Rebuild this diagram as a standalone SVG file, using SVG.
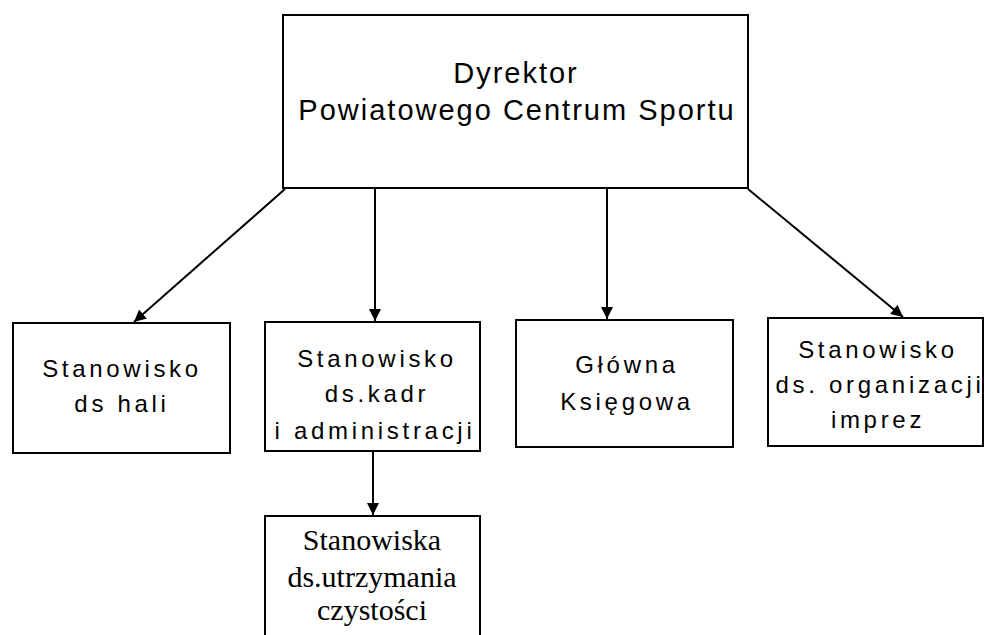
<svg xmlns="http://www.w3.org/2000/svg" width="985" height="635" viewBox="0 0 985 635">
<style>
.box{fill:#fff;stroke:#000;stroke-width:2}
.t{font-family:"Liberation Sans",Arial,sans-serif;font-size:24px;letter-spacing:3.7px;text-anchor:middle;fill:#000}
.top{font-size:29px;letter-spacing:2px}
.serif{font-family:"Liberation Serif","Times New Roman",serif;font-size:30px;letter-spacing:0;text-anchor:middle;fill:#000}
.c{stroke:#000;stroke-width:2;fill:none;marker-end:url(#ah)}
</style>
<defs>
<marker id="ah" viewBox="0 0 10 10" refX="10" refY="5" markerWidth="6" markerHeight="6" orient="auto" markerUnits="strokeWidth">
<path d="M0,0 L10,5 L0,10 z" fill="#000"/>
</marker>
</defs>
<rect width="985" height="635" fill="#fff"/>
<g id="connectors">
<line class="c" x1="285" y1="189" x2="134" y2="322"/>
<line class="c" x1="375" y1="189" x2="375" y2="321"/>
<line class="c" x1="607" y1="189" x2="607" y2="319"/>
<line class="c" x1="748" y1="189" x2="903" y2="317"/>
<line class="c" x1="373" y1="452" x2="373" y2="515"/>
</g>
<g id="director">
<rect class="box" x="283" y="15" width="465" height="173"/>
<text class="t top" x="516" y="83">Dyrektor</text>
<text class="t top" x="517" y="120">Powiatowego Centrum Sportu</text>
</g>
<g id="hala">
<rect class="box" x="13" y="323" width="217" height="130"/>
<text class="t" x="122" y="377">Stanowisko</text>
<text class="t" x="122" y="412">ds hali</text>
</g>
<g id="kadry">
<rect class="box" x="265" y="322" width="215" height="129"/>
<text class="t" x="377" y="367">Stanowisko</text>
<text class="t" x="377" y="402">ds.kadr</text>
<text class="t" x="375" y="439">i administracji</text>
</g>
<g id="ksiegowa">
<rect class="box" x="516" y="320" width="217" height="127"/>
<text class="t" x="627" y="373">Główna</text>
<text class="t" x="627" y="410">Księgowa</text>
</g>
<g id="imprezy">
<rect class="box" x="768" y="318" width="215" height="128"/>
<text class="t" x="878" y="358">Stanowisko</text>
<text class="t" x="880" y="393">ds. organizacji</text>
<text class="t" x="878" y="428">imprez</text>
</g>
<g id="czystosc">
<rect class="box" x="265" y="516" width="215" height="130"/>
<text class="serif" x="372" y="550">Stanowiska</text>
<text class="serif" x="372" y="587">ds.utrzymania</text>
<text class="serif" x="372" y="620">czystości</text>
</g>
</svg>
